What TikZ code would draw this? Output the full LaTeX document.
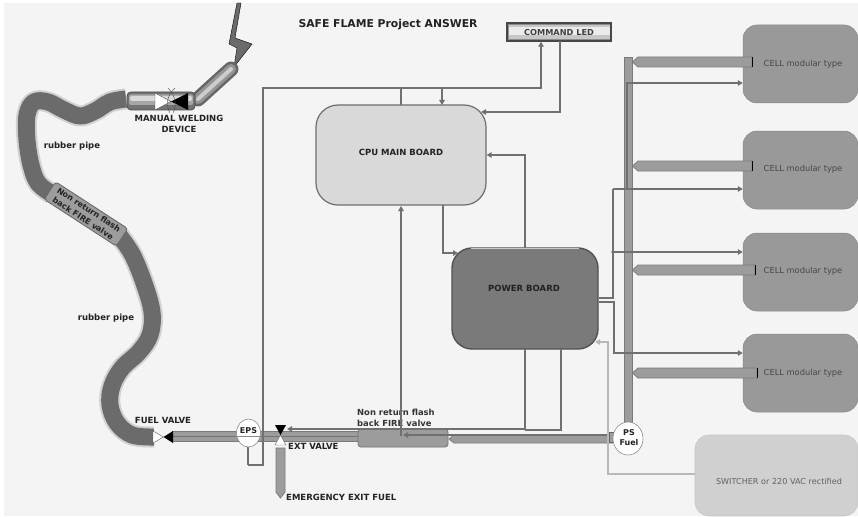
\documentclass[tikz,border=0pt]{standalone}
\usepackage{fontspec}
\setmainfont{DejaVu Sans}
\usetikzlibrary{arrows.meta,shapes.geometric}
\definecolor{bgc}{HTML}{F4F4F4}
\definecolor{connc}{HTML}{707070}
\definecolor{cellc}{HTML}{999999}
\definecolor{pipec}{HTML}{9C9C9C}
\definecolor{pipeedge}{HTML}{7A7A7A}
\definecolor{rubberc}{HTML}{6B6B6B}
\definecolor{cpuc}{HTML}{D9D9D9}
\definecolor{powerc}{HTML}{7A7A7A}
\definecolor{switchc}{HTML}{D0D0D0}
\definecolor{lightline}{HTML}{B8B8B8}
\definecolor{txtc}{HTML}{222222}
\tikzset{
  conn/.style={draw=connc, line width=1.6pt},
  arr/.style={-{Triangle[length=5pt,width=5.5pt]}},
  pipe/.style={fill=pipec, draw=pipeedge, line width=0.8pt},
  lbl/.style={font=\fontsize{8.5}{10.5}\selectfont\bfseries, text=txtc, inner sep=0pt},
  celltxt/.style={font=\fontsize{8.3}{9}\selectfont, text=black!72, inner sep=0pt},
  cellbox/.style={fill=cellc, draw=cellc!90!black, line width=0.5pt, rounded corners=14pt},
  rubber/.style={draw=rubberc, line width=17pt, line cap=butt, line join=round},
  rubberhaze/.style={draw=rubberc, line width=21pt, opacity=0.25, line cap=butt, line join=round},
}
\begin{document}
\begin{tikzpicture}[x=1pt,y=-1pt]
\useasboundingbox (0,0) rectangle (858,516);
\fill[white] (0,0) rectangle (858,516);
\fill[bgc] (4,3) rectangle (858,516);

% ---------- title ----------
\node[font=\fontsize{10.8}{12}\selectfont\bfseries, text=txtc] (title) at (388,25) {SAFE FLAME Project ANSWER};

% ---------- rubber hose from torch to fuel valve ----------
\draw[rubberhaze] plot[smooth, tension=0.6] coordinates {(126,99) (110,102) (95,111) (80,116) (64,110) (48,102) (34,102) (27,115) (27,140) (31,165) (38,183) (52,194)};
\draw[rubber] plot[smooth, tension=0.6] coordinates {(126,99) (110,102) (95,111) (80,116) (64,110) (48,102) (34,102) (27,115) (27,140) (31,165) (38,183) (52,194)};
\draw[rubberhaze] plot[smooth, tension=0.6] coordinates {(118,234) (132,254) (144,283) (152,312) (150,335) (139,352) (122,368) (112,386) (110,405) (117,423) (132,435) (154,437)};
\draw[rubber] plot[smooth, tension=0.6] coordinates {(118,234) (132,254) (144,283) (152,312) (150,335) (139,352) (122,368) (112,386) (110,405) (117,423) (132,435) (154,437)};

% flash-back valve on the hose
\node[rotate=-33, fill=pipec, draw=black!60, line width=0.8pt, rounded corners=3pt, minimum width=86pt, minimum height=21pt, inner sep=0pt] (hosevalve) at (86,214) {};
\node[rotate=-33, font=\fontsize{8}{10.5}\selectfont\bfseries, text=txtc, align=center, inner sep=0pt] (hosevalvelbl) at (86,214) {Non return flash\\back FIRE valve};

\node[lbl] (rp1) at (72,146) {rubber pipe};
\node[lbl] (rp2) at (106,318) {rubber pipe};

% ---------- manual welding device ----------
\draw[fill=rubberc] (237,3) -- (241,3) -- (235,38) -- (252,44) -- (234,67) -- (237,48) -- (229,44) -- cycle;
\coordinate (nozA) at (198,99);
\coordinate (nozB) at (231,69);
\draw[line width=15pt, line cap=round, draw=black!60] (nozA) -- (nozB);
\draw[line width=10pt, line cap=round, draw=black!42] (nozA) -- (nozB);
\draw[line width=4pt, line cap=round, draw=black!20] (nozA) -- (nozB);
\node[rounded corners=4pt, fill=black!55, draw=black!70, line width=0.8pt, minimum width=68pt, minimum height=18pt, inner sep=0pt] (torch) at (161,101) {};
\fill[black!35, rounded corners=2pt] (129,94.5) rectangle (193,105);
\fill[black!15, rounded corners=1.5pt] (130,96) rectangle (192,101);
\fill[white, draw=black!70, line width=0.4pt] (155,93) -- (155,110) -- (171,101.5) -- cycle;
\fill[black] (188,93) -- (188,110) -- (171,101.5) -- cycle;
\draw[black!70, line width=0.4pt] (175,88) .. controls (166,96) and (166,106) .. (170,113);
\draw[black!70, line width=0.4pt] (168,88) .. controls (176,96) and (177,106) .. (173,113);
\node[lbl, align=center] (torchlbl) at (179,124) {MANUAL WELDING\\DEVICE};

% ---------- boards ----------
\node[fill=cpuc, draw=black!57, line width=1.2pt, rounded corners=22pt, minimum width=170pt, minimum height=100pt] (cpu) at (401,155) {};
\node[lbl] (cpulbl) at (401,152) {CPU MAIN BOARD};
\node[fill=powerc, draw=black!68, line width=1.4pt, rounded corners=20pt, minimum width=146pt, minimum height=101pt] (power) at (525,298.5) {};
\draw[white!60!powerc, line width=1pt] ([xshift=20pt,yshift=-1.5pt]power.north west) -- ([xshift=-20pt,yshift=-1.5pt]power.north east);
\node[lbl] (powerlbl) at (524,288) {POWER BOARD};

\node[fill=black!45, draw=black!72, line width=1.5pt, minimum width=104pt, minimum height=18pt, inner sep=0pt] (led) at (559,32) {};
\fill[black!22] (508.5,25) rectangle (609.5,39.5);
\fill[black!8] (508.5,27) rectangle (609.5,35);
\node[font=\fontsize{8.2}{10}\selectfont\bfseries, text=black!75] (ledlbl) at (559,33) {COMMAND LED};

% ---------- cells and supply ----------
\node[cellbox, minimum width=115pt, minimum height=78pt] (cell1) at (800.5,64) {};
\node[cellbox, minimum width=115pt, minimum height=78pt] (cell2) at (800.5,170) {};
\node[cellbox, minimum width=115pt, minimum height=78pt] (cell3) at (800.5,272) {};
\node[cellbox, minimum width=115pt, minimum height=78pt] (cell4) at (800.5,373) {};
\node[fill=switchc, draw=black!22, line width=0.6pt, rounded corners=14pt, minimum width=163pt, minimum height=81pt] (switcher) at (776.5,475.5) {};

% fuel feeds from cells to the collector bar
\foreach \yy/\xe in {57/752, 161/752, 265/755, 368/757}{
  \draw[pipe] (638,\yy) -- (\xe,\yy) -- (\xe,\yy+10) -- (638,\yy+10) -- (632.5,\yy+5) -- cycle;
  \draw[black, line width=1pt] (\xe,\yy) -- (\xe,\yy+10);
}
\draw[pipe] (624,57) rectangle (632,423);

\node[celltxt] (c1lbl) at (803,64) {CELL modular type};
\node[celltxt] (c2lbl) at (803,169) {CELL modular type};
\node[celltxt] (c3lbl) at (803,271) {CELL modular type};
\node[celltxt] (c4lbl) at (803,373) {CELL modular type};
\node[font=\fontsize{8.1}{10}\selectfont, text=black!62] (swlbl) at (779,481) {SWITCHER or 220 VAC rectified};

% ---------- fuel line ----------
\draw[pipe] (454,435) -- (613,435) -- (613,443) -- (454,443) -- (449,439) -- cycle;
\draw[pipe] (172,431) rectangle (358,441);
\draw[black!55, line width=0.8pt] (172,436) -- (358,436);
\node[fill=pipec, draw=black!55, line width=0.8pt, rounded corners=3pt, minimum width=90pt, minimum height=18pt, inner sep=0pt] (nrvalve) at (403,438) {};
\node[font=\fontsize{8.4}{11}\selectfont\bfseries, text=black!80, align=left, anchor=west, inner sep=0pt] (nrlbl) at (357,417.5) {Non return flash\\back FIRE valve};
\draw[pipe] (276,448) -- (285,448) -- (285,492) -- (280.5,498) -- (276,492) -- cycle;
\node[lbl, anchor=west] (emlbl) at (286,497) {EMERGENCY EXIT FUEL};

% fuel valve
\fill[white, draw=black!60, line width=0.4pt] (153,431) -- (153,443) -- (163.5,437) -- cycle;
\fill[black] (173,431) -- (173,443) -- (163.5,437) -- cycle;
\node[lbl] (fvlbl) at (163,420) {FUEL VALVE};
% exit valve
\fill[black] (275,425) -- (286,425) -- (280.5,435) -- cycle;
\fill[white, draw=black!60, line width=0.4pt] (275,445) -- (286,445) -- (280.5,435) -- cycle;
\node[lbl, anchor=west] (evlbl) at (288,446) {EXT VALVE};

% ---------- signal lines ----------
\coordinate (epsA) at (248,465);
\coordinate (epsB) at (263,465);
\coordinate (topL) at (263,88);
\coordinate (topR) at (541,88);
\coordinate (cpuUp) at (401,88);
\coordinate (cpuDn) at (442,88);
\draw[conn] (cpuUp) -- (401,105);
\draw[conn, arr] (cpuDn) -- (442,105);
\draw[conn, arr] (560,41) -- (560,112) -- (481,112);
\draw[conn, arr] (525,248) -- (525,155) -- (cpu.east |- 0,155);
\draw[conn, arr] (443,205) -- (443,253) -- (458,253);
\draw[conn, arr] (401,436) -- (401,206);
\draw[conn, arr] (612,435) -- (403,435);
\draw[conn, arr] (525,349) -- (525,429) -- (287,429);
\draw[conn] (561,349) -- (561,430) -- (525,430);
% power board to cells
\coordinate (pbR1) at (613,298);
\coordinate (busA) at (613,189);
\coordinate (busB) at (613,252);
\draw[conn] (power.east |- pbR1) -- (pbR1) -- (busA);
\draw[conn, arr] (busA) -- (cell2.west |- busA);
\draw[conn, arr] (busB) -- (cell3.west |- busB);
\draw[conn, arr] (busA) -- (627,189) -- (627,83) -- (cell1.west |- 0,83);
\draw[conn, arr] (power.east |- 0,302) -- (614,302) -- (614,353) -- (cell4.west |- 0,353);
\fill[connc] (busB) circle (1.8pt);
% supply to power board
\draw[lightline, line width=1.6pt, arr] (switcher.west |- 0,474) -- (608,474) -- (608,342) -- (595,342);

% ---------- sensors ----------
\draw[conn] (epsA) -- (248,447);
\draw[conn, arr] (epsA) -- (epsB) -- (topL) -- (topR) -- (led.south -| topR);
\node[ellipse, fill=white, draw=black!45, line width=0.6pt, minimum width=24pt, minimum height=28pt, inner sep=0pt] (eps) at (248.5,433) {};
\node[font=\fontsize{8}{10}\selectfont\bfseries, text=txtc] (epslbl) at (248.5,431) {EPS};
\draw[black!45, line width=0.8pt] (eps.west |- 0,436) -- (eps.east |- 0,436);
\draw[fill=pipec, draw=black!60, line width=0.6pt] (609,432) rectangle (617,442);
\node[ellipse, fill=white, draw=black!45, line width=0.6pt, minimum width=30pt, minimum height=33pt, inner sep=0pt] (psfuel) at (628,438.5) {};
\node[font=\fontsize{8}{10}\selectfont\bfseries, text=txtc, align=center, inner sep=0pt] (pslbl) at (629,438) {PS\\Fuel};
\end{tikzpicture}
\end{document}
